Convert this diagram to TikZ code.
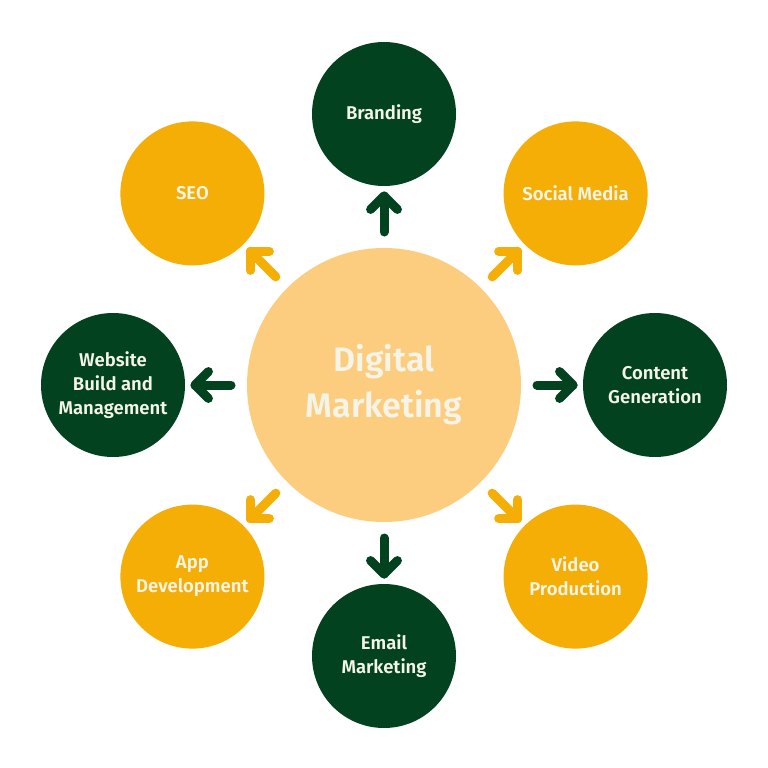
\documentclass[tikz,border=0pt]{standalone}
\usepackage{fontspec}
\setmainfont{Fira Sans}[Ligatures=NoCommon, BoldFont={Fira Sans SemiBold}]
\usetikzlibrary{calc}
\definecolor{dg}{HTML}{03421F}
\definecolor{gd}{HTML}{F5AE05}
\definecolor{lt}{HTML}{FCCD7E}
\definecolor{tx}{HTML}{F4F4E8}
\tikzset{
  outer/.style={circle, minimum size=144pt, inner sep=0pt, text=tx, align=center,
     font=\fontsize{18.5}{24}\selectfont\bfseries},
  gcirc/.style={outer, fill=dg},
  ocirc/.style={outer, fill=gd},
  hub/.style={circle, fill=lt, minimum size=274pt, inner sep=0pt, text=tx, align=center,
     font=\fontsize{34}{46}\selectfont\bfseries},
  arr/.style={line width=9pt, line cap=round, line join=round}
}
\newcommand\conn[2]{%
  \draw[arr,#2] ($(c)!153pt!(#1)$) -- ($(c)!189pt!(#1)$) coordinate (t#1);
  \draw[arr,#2] ($(t#1)!19pt!45:(c)$) -- (t#1) -- ($(t#1)!19pt!-45:(c)$);}
\begin{document}
\begin{tikzpicture}[x=1pt,y=-1pt]
\fill[white] (0,0) rectangle (768,768);
\useasboundingbox (0,0) rectangle (768,768);
\node[hub] (c) at (384,385) {Digital\\Marketing};
\node[gcirc] (n1) at (384,114) {Branding};
\node[ocirc] (n2) at (575.6,193.4) {Social Media};
\node[gcirc] (n3) at (655,385) {Content\\Generation};
\node[ocirc] (n4) at (575.6,576.6) {Video\\Production};
\node[gcirc] (n5) at (384,656) {Email\\Marketing};
\node[ocirc] (n6) at (192.4,576.6) {App\\Development};
\node[gcirc] (n7) at (113,385) {Website\\Build and\\Management};
\node[ocirc] (n8) at (192.4,193.4) {SEO};
\conn{n1}{dg}
\conn{n2}{gd}
\conn{n3}{dg}
\conn{n4}{gd}
\conn{n5}{dg}
\conn{n6}{gd}
\conn{n7}{dg}
\conn{n8}{gd}
\end{tikzpicture}
\end{document}
